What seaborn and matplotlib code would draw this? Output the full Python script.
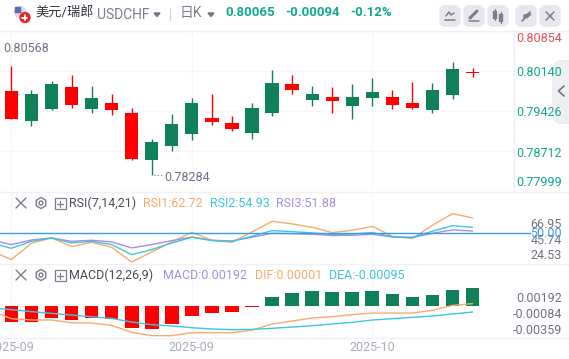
import numpy as np
import pandas as pd
import matplotlib
matplotlib.use("Agg")
import matplotlib.pyplot as plt
import seaborn as sns
from matplotlib.patches import Circle, FancyBboxPatch, Polygon, Rectangle, RegularPolygon

# DATA

candle_open = [0.79289, 0.79730, 0.79908, 0.79539, 0.79658, 0.79450, 0.78575, 0.78873, 0.79194, 0.79569, 0.79236, 0.79111,
               0.79480, 0.79926, 0.79807, 0.79730, 0.79611, 0.79676, 0.79765, 0.79539, 0.79486, 0.79801, 0.80176, 0.80098]
candle_close = [0.79783, 0.79254, 0.79468, 0.79854, 0.79468, 0.79569, 0.79390, 0.78557, 0.78807, 0.79021, 0.79301, 0.79212,
                0.79039, 0.79396, 0.79908, 0.79628, 0.79676, 0.79521, 0.79664, 0.79676, 0.79569, 0.79450, 0.79718, 0.80128]
candle_high = [0.80229, 0.79801, 0.79962, 0.80069, 0.79872, 0.79730, 0.79480, 0.78926, 0.79373, 0.79658, 0.79730, 0.79337,
               0.79569, 0.80158, 0.80069, 0.79872, 0.79854, 0.79908, 0.80015, 0.79801, 0.79944, 0.79926, 0.80301, 0.80194]
candle_low = [0.79289, 0.79158, 0.79444, 0.79480, 0.79390, 0.79355, 0.78551, 0.78284, 0.78712, 0.78908, 0.79176, 0.79069,
              0.78926, 0.79337, 0.79730, 0.79515, 0.79390, 0.79283, 0.79515, 0.79462, 0.79462, 0.79390, 0.79640, 0.80033]

rsi1 = [35.3, 28.1, 41.7, 46.1, 38.9, 42.5, 38.3, 26.1, 34.4, 42.8, 50.8, 44.2, 42.5,
        51.1, 60.0, 57.8, 55.0, 50.6, 52.5, 55.8, 47.5, 45.6, 56.7, 66.4, 62.72]
rsi2 = [41.9, 37.5, 43.3, 46.1, 41.9, 43.3, 40.6, 32.2, 36.4, 41.9, 46.7, 43.9, 43.3,
        47.5, 52.2, 51.4, 50.3, 48.9, 49.4, 50.6, 47.2, 46.7, 51.7, 56.4, 54.93]
rsi3 = [44.4, 40.6, 44.4, 46.1, 43.3, 44.2, 42.8, 37.8, 40.6, 43.9, 46.9, 44.2, 43.6,
        46.7, 50.0, 49.7, 49.2, 48.1, 48.3, 49.2, 46.9, 46.4, 50.0, 52.8, 51.88]

macd_hist = [-0.00171, -0.00171, -0.00128, -0.00149, -0.00128, -0.00139, -0.00235, -0.00245, -0.00192, -0.00107, -0.00075, -0.00064,
             -0.00011, 0.00096, 0.00139, 0.00160, 0.00149, 0.00149, 0.00160, 0.00128, 0.00096, 0.00117, 0.00171, 0.00192]
dif = [-0.00057, -0.00135, -0.00149, -0.00149, -0.00178, -0.00181, -0.00206, -0.00281, -0.00316, -0.00316, -0.00284, -0.00284, -0.00284,
       -0.00256, -0.00192, -0.00160, -0.00128, -0.00114, -0.00092, -0.00075, -0.00075, -0.00075, -0.00046, 0.00007, 0.00025]
dea = [-0.00021, -0.00039, -0.00060, -0.00078, -0.00096, -0.00114, -0.00132, -0.00171, -0.00199, -0.00213, -0.00231, -0.00245, -0.00252,
       -0.00249, -0.00238, -0.00224, -0.00210, -0.00192, -0.00174, -0.00149, -0.00135, -0.00121, -0.00107, -0.00085, -0.00064]

price_labels = ["0.80854", "0.80140", "0.79426", "0.78712", "0.77999"]
rsi_labels = ["66.95", "45.74", "24.53"]
macd_labels = ["0.00192", "-0.00084", "-0.00359"]
date_labels = ["2025-09", "2025-09", "2025-10"]
date_index = [0, 9, 18]

# COLOURS

RED = "#ff0000"
GREEN = "#108058"
TEAL = "#12a88b"
GRAY = "#6f7484"
GRID = "#f5f6fa"
ORANGE = "#f9ab6c"
CYAN = "#3cc6de"
PURPLE = "#a98de8"
BLUE = "#3f98e8"
ICON = "#7b7f8c"
BTN = "#e6e8ee"

sns.set_theme(style="white")
plt.rcParams["font.family"] = ["Roboto", "Noto Sans CJK SC", "DejaVu Sans"]

W, H = 569, 359
fig = plt.figure(figsize=(W / 100, H / 100), dpi=100, facecolor="white")

# spacing of the candles: first at x=11.4 px, 20.05 px apart
x0, step = 11.4, 20.05


def pane(left, top, right, bottom):
    ax = fig.add_axes([left / W, 1 - bottom / H, (right - left) / W, (bottom - top) / H])
    ax.set_xlim((left - x0) / step, (right - x0) / step)
    ax.set_facecolor("none")
    ax.tick_params(left=False, bottom=False, labelleft=False, labelbottom=False)
    for s in ax.spines.values():
        s.set_visible(False)
    for i in date_index:
        ax.axvline(i, color=GRID, lw=1, zorder=0)
    return ax


# CANDLE PANE

ax1 = pane(0, 31, 514, 191)
ax1.set_ylim(0.77999, 0.80854)
for p in [0.80854, 0.80140, 0.79426, 0.78712, 0.77999]:
    ax1.axhline(p, color=GRID, lw=1, zorder=0)
ax1.spines["right"].set_visible(True)
ax1.spines["right"].set_color("#eceef3")
ax1.spines["right"].set_linewidth(1)

idx = np.arange(len(candle_open))
candles = pd.DataFrame({"idx": idx, "open": candle_open, "close": candle_close, "high": candle_high, "low": candle_low})
candles["color"] = np.where(candles["close"] >= candles["open"], RED, GREEN)
candles["bot"] = candles[["open", "close"]].min(axis=1)
candles["size"] = (candles["close"] - candles["open"]).abs()
ax1.vlines(candles["idx"], candles["low"], candles["high"], colors=candles["color"], lw=1, zorder=2)
ax1.bar(candles["idx"], candles["size"], bottom=candles["bot"], width=0.66, color=candles["color"], linewidth=0, zorder=3)

# RSI PANE

ax2 = pane(0, 192, 569, 264)
ax2.set_ylim(24.4, 84.4)
line_idx = np.arange(-1, 24)
rsi = pd.DataFrame({"idx": line_idx, "RSI1": rsi1, "RSI2": rsi2, "RSI3": rsi3})
sns.lineplot(data=rsi, x="idx", y="RSI1", color=ORANGE, lw=1, ax=ax2, errorbar=None)
sns.lineplot(data=rsi, x="idx", y="RSI3", color=PURPLE, lw=1, ax=ax2, errorbar=None)
sns.lineplot(data=rsi, x="idx", y="RSI2", color=CYAN, lw=1, ax=ax2, errorbar=None)
ax2.hlines(50, -1, (531 - x0) / step, color=BLUE, lw=1, zorder=4)
ax2.set_xlim((0 - x0) / step, (569 - x0) / step)
ax2.set_xlabel("")
ax2.set_ylabel("")

# MACD PANE

ax3 = pane(0, 264, 569, 338)
hist = pd.DataFrame({"idx": idx, "hist": macd_hist})
hist["side"] = np.where(hist["hist"] < 0, "down", "up")
sns.barplot(data=hist, x="idx", y="hist", hue="side", palette={"down": RED, "up": GREEN}, native_scale=True,
            width=0.68, dodge=False, saturation=1, legend=False, linewidth=0, ax=ax3)
lines = pd.DataFrame({"idx": line_idx, "dif": dif, "dea": dea})
sns.lineplot(data=lines, x="idx", y="dif", color=ORANGE, lw=1, ax=ax3, errorbar=None)
sns.lineplot(data=lines, x="idx", y="dea", color=CYAN, lw=1, ax=ax3, errorbar=None)
ax3.set_xlim((0 - x0) / step, (569 - x0) / step)
ax3.set_ylim(-0.00341, 0.00448)
ax3.set_xlabel("")
ax3.set_ylabel("")

# OVERLAY IN PIXELS: header, labels, icons

ov = fig.add_axes([0, 0, 1, 1], facecolor="none")
ov.set_xlim(0, W)
ov.set_ylim(H, 0)
ov.axis("off")


def label(x, y, s, color=GRAY, ha="left", size=9, weight="normal", **kw):
    ov.text(x, y, s, color=color, ha=ha, va="center", fontsize=size, fontweight=weight, **kw)


def stroke(xs, ys, color=ICON, lw=1.0):
    ov.plot(xs, ys, color=color, lw=lw, solid_capstyle="round")


for y in [31, 192, 264, 338]:
    stroke([0, W], [y, y], color="#f0f1f5", lw=1)

# flag icon
ov.add_patch(Circle((20, 12), 5.5, color="#d9dbe6", zorder=3))
ov.add_patch(Rectangle((15, 7), 5, 5, color="#5c6bb0", zorder=4))
for yy in (10, 13, 16):
    stroke([16, 25], [yy, yy], color="#e0606a", lw=0.8)
ov.add_patch(Circle((25, 17.5), 5, color="#e8252c", zorder=5))
ov.plot([22.5, 27.5], [17.5, 17.5], color="white", lw=1.3, zorder=6)
ov.plot([25, 25], [15, 20], color="white", lw=1.3, zorder=6)

label(35, 13, "美元/瑞郎", color="#33363f", size=9.5)
label(97, 15, "USDCHF", color="#7b7f8c", size=10)
ov.add_patch(Polygon([[154, 13], [160, 13], [157, 16.5]], color=GRAY))
stroke([170, 170], [8, 20], color="#d5d7de", lw=1)
label(180, 13, "日K", color="#7b7f8c", size=10)
ov.add_patch(Polygon([[208, 13], [214, 13], [211, 16.5]], color=GRAY))
label(225, 13, "0.80065", color=TEAL, size=9.5, weight="bold")
label(285, 13, "-0.00094", color=TEAL, size=9.5, weight="bold")
label(350, 13, "-0.12%", color=TEAL, size=9.5, weight="bold")

# toolbar buttons
for bx in [440, 464, 488, 516, 540]:
    ov.add_patch(FancyBboxPatch((bx + 2, 8), 16, 16, boxstyle="round,pad=0,rounding_size=3", mutation_scale=1,
                                ec=BTN, fc=BTN, lw=4))
stroke([446, 449, 451, 454], [16, 12, 15, 13], lw=1.1)
stroke([445, 455], [20, 20], lw=1.1)
stroke([470, 477], [18, 11], lw=2.2)
stroke([469, 479], [20.5, 20.5], lw=1.1)
ov.add_patch(Rectangle((493, 11), 3.5, 7, color=ICON))
stroke([494.7, 494.7], [9, 20], lw=0.9)
ov.add_patch(Rectangle((499, 14), 3.5, 7, color=ICON))
stroke([500.7, 500.7], [12, 23], lw=0.9)
stroke([522, 525], [21, 18], lw=1.2)
stroke([527, 530], [15, 12], lw=1.2)
ov.add_patch(Polygon([[524, 15], [528, 15], [524, 19]], color=ICON))
ov.add_patch(Polygon([[527, 14], [527, 18], [531, 14]], color=ICON))
stroke([546, 554], [12, 20], lw=1.1)
stroke([546, 554], [20, 12], lw=1.1)

# collapse tab on the right
ov.add_patch(FancyBboxPatch((552, 60), 30, 64, boxstyle="round,pad=0,rounding_size=10", mutation_scale=1,
                            ec="none", fc="#eeeff3", zorder=0))
stroke([564, 558.5, 564], [86, 91, 96], color=GRAY, lw=1.2)

# price scale labels
label(562, 38.5, price_labels[0], color="#e7505c", ha="right")
label(562, 73, price_labels[1], color=TEAL, ha="right")
label(562, 112.5, price_labels[2], color=TEAL, ha="right")
label(562, 153.5, price_labels[3], color=TEAL, ha="right")
label(562, 182.5, price_labels[4], color=TEAL, ha="right")

# high and low marks
label(3, 48.5, "0.80568")
label(164, 177.5, "0.78284")
ov.plot([154, 163], [175, 175], color=GRAY, lw=0.8, ls=(0, (1, 2)))

# pane headers


def pane_icons(y):
    stroke([16, 26], [y - 5, y + 5], lw=1.0)
    stroke([16, 26], [y + 5, y - 5], lw=1.0)
    ov.add_patch(RegularPolygon((41, y), 6, radius=5.5, fc="none", ec=ICON, lw=1))
    ov.add_patch(Circle((41, y), 2, fc="none", ec=ICON, lw=1))
    ov.add_patch(Rectangle((55, y - 5), 11, 11, fc="none", ec=ICON, lw=0.9))
    stroke([57.5, 63.5], [y + 0.5, y + 0.5], lw=0.9)
    stroke([60.5, 60.5], [y - 2.5, y + 3.5], lw=0.9)


pane_icons(203)
label(69, 203.5, "RSI(7,14,21)", color="#4a4d58")
label(143, 203.5, "RSI1:62.72", color=ORANGE)
label(210, 203.5, "RSI2:54.93", color=CYAN)
label(276, 203.5, "RSI3:51.88", color=PURPLE)

pane_icons(275)
label(69, 275.5, "MACD(12,26,9)", color="#4a4d58")
label(163, 275.5, "MACD:0.00192", color=PURPLE)
label(255, 275.5, "DIF:0.00001", color=ORANGE)
label(329, 275.5, "DEA:-0.00095", color=CYAN)

# lower pane scales
label(562, 225, rsi_labels[0], ha="right")
label(562, 241, rsi_labels[1], ha="right")
label(562, 255.5, rsi_labels[2], ha="right")
label(562, 233.5, "50.00", color=BLUE, ha="right")
label(562, 298, macd_labels[0], ha="right")
label(562, 314, macd_labels[1], ha="right")
label(562, 330, macd_labels[2], ha="right")

# date labels
for i, d in zip(date_index, date_labels):
    label(x0 + i * step, 347.5, d, color="#a9adba", ha="center")

fig.savefig("out.png", dpi=100, facecolor="white")
